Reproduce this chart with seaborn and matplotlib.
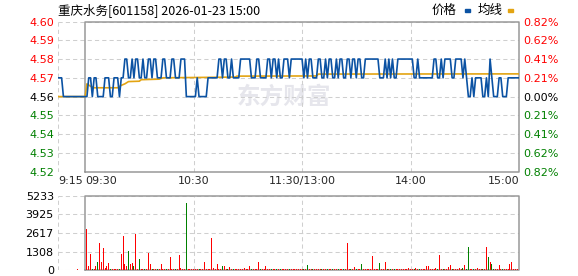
import numpy as np
import pandas as pd
import matplotlib
matplotlib.use("Agg")
import matplotlib.pyplot as plt
import seaborn as sns
from matplotlib.patches import Rectangle

# ---------------- data ----------------
title = "重庆水务[601158] 2026-01-23 15:00"
# minute index from 9:15 (0) to 15:00 (255); 9:30 = 15, 11:30/13:00 = 135
tick_minutes = [0, 15, 75, 135, 195, 255]
tick_labels = ["9:15", "09:30", "10:30", "11:30/13:00", "14:00", "15:00"]

price = [
    4.57, 4.57, 4.57, 4.56, 4.56, 4.56, 4.56, 4.56, 4.56, 4.56, 4.56, 4.56, 4.56, 4.56, 4.56, 4.56,
    4.56, 4.57, 4.57, 4.56, 4.57, 4.57, 4.56, 4.56, 4.56, 4.56, 4.57, 4.57, 4.57, 4.56, 4.56, 4.57,
    4.57, 4.57, 4.56, 4.57, 4.57, 4.58, 4.58, 4.57, 4.57, 4.58, 4.57, 4.58, 4.58, 4.57, 4.57, 4.58,
    4.57, 4.57, 4.58, 4.58, 4.57, 4.58, 4.58, 4.57, 4.57, 4.57, 4.58, 4.58, 4.57, 4.57, 4.57, 4.58,
    4.58, 4.57, 4.57, 4.57, 4.58, 4.58, 4.58, 4.56, 4.56, 4.56, 4.56, 4.56, 4.56, 4.57, 4.56, 4.56,
    4.56, 4.56, 4.56, 4.57, 4.57, 4.57, 4.57, 4.57, 4.57, 4.58, 4.58, 4.57, 4.58, 4.58, 4.57, 4.57,
    4.58, 4.57, 4.57, 4.57, 4.57, 4.58, 4.58, 4.58, 4.58, 4.58, 4.58, 4.57, 4.57, 4.57, 4.58, 4.58,
    4.57, 4.57, 4.57, 4.57, 4.58, 4.58, 4.57, 4.58, 4.58, 4.57, 4.58, 4.57, 4.57, 4.58, 4.58, 4.58,
    4.57, 4.58, 4.58, 4.58, 4.58, 4.58, 4.58, 4.58, 4.57, 4.58, 4.57, 4.58, 4.58, 4.57, 4.57, 4.57,
    4.58, 4.58, 4.57, 4.57, 4.58, 4.57, 4.58, 4.58, 4.57, 4.57, 4.58, 4.57, 4.58, 4.58, 4.57, 4.57,
    4.58, 4.58, 4.57, 4.58, 4.58, 4.57, 4.58, 4.58, 4.57, 4.57, 4.58, 4.58, 4.58, 4.58, 4.58, 4.58,
    4.58, 4.58, 4.57, 4.57, 4.57, 4.58, 4.57, 4.58, 4.57, 4.58, 4.57, 4.57, 4.58, 4.58, 4.58, 4.58,
    4.58, 4.58, 4.58, 4.58, 4.58, 4.57, 4.57, 4.58, 4.57, 4.57, 4.57, 4.57, 4.57, 4.57, 4.57, 4.57,
    4.58, 4.58, 4.57, 4.57, 4.58, 4.57, 4.58, 4.58, 4.58, 4.58, 4.57, 4.57, 4.58, 4.58, 4.58, 4.58,
    4.57, 4.58, 4.57, 4.56, 4.56, 4.57, 4.56, 4.57, 4.57, 4.57, 4.57, 4.56, 4.56, 4.57, 4.56, 4.58,
    4.57, 4.56, 4.56, 4.56, 4.57, 4.57, 4.56, 4.56, 4.56, 4.57, 4.57, 4.57, 4.57, 4.57, 4.57, 4.57,
]

avg_minute = [0, 15, 16, 18, 20, 33, 35, 37, 39, 45, 46, 56, 58, 98, 99, 143, 144, 255]
avg_price = [4.5600, 4.5600, 4.5668, 4.5655, 4.5647, 4.5647, 4.5660, 4.5668, 4.5680,
             4.5682, 4.5690, 4.5693, 4.5700, 4.5704, 4.5709, 4.5710, 4.5720, 4.5721]

volume = [
    0, 0, 0, 0, 0, 0, 0, 0, 0, 0, 0, 60, 0, 0, 0, 0,
    2920, 250, 1130, 50, 60, 250, 565, 1930, 565, 1555, 120, 250, 500, 50, 40, 50,
    40, 50, 60, 1130, 2400, 390, 250, 1340, 400, 500, 300, 2550, 60, 800, 100, 40,
    50, 60, 1220, 420, 40, 60, 50, 40, 50, 420, 60, 50, 40, 60, 920, 50,
    40, 60, 50, 1080, 120, 80, 60, 4760, 80, 60, 50, 60, 40, 90, 80, 70,
    60, 600, 50, 90, 60, 2290, 170, 50, 440, 60, 50, 300, 300, 50, 60, 220,
    50, 60, 40, 50, 60, 80, 50, 170, 40, 60, 250, 50, 100, 40, 60, 560,
    50, 40, 60, 250, 50, 60, 40, 50, 60, 40, 50, 60, 40, 50, 60, 40,
    50, 60, 40, 50, 60, 40, 50, 60, 50, 40, 350, 50, 60, 80, 40, 60,
    50, 40, 60, 50, 40, 60, 50, 40, 60, 50, 40, 80, 50, 40, 60, 50,
    1930, 50, 60, 40, 200, 50, 60, 40, 440, 50, 60, 40, 50, 60, 990, 40,
    50, 60, 500, 40, 50, 560, 40, 60, 80, 50, 40, 60, 50, 40, 60, 50,
    40, 60, 170, 50, 40, 60, 120, 50, 80, 40, 60, 50, 300, 300, 40, 60,
    50, 170, 60, 1060, 50, 40, 60, 50, 220, 380, 80, 50, 80, 40, 120, 50,
    170, 380, 50, 1630, 60, 40, 50, 60, 170, 40, 50, 60, 40, 1630, 920, 560,
    440, 80, 50, 60, 380, 100, 50, 40, 60, 80, 440, 600, 50, 40, 60, 1760,
]

price_ticks = [4.52, 4.53, 4.54, 4.55, 4.56, 4.57, 4.58, 4.59, 4.60]
price_labels = ["4.52", "4.53", "4.54", "4.55", "4.56", "4.57", "4.58", "4.59", "4.60"]
pct_labels = ["0.82%", "0.62%", "0.41%", "0.21%", "0.00%", "0.21%", "0.41%", "0.62%", "0.82%"]
vol_ticks = [0, 1308, 2617, 3925, 5233]
vol_labels = ["0", "1308", "2617", "3925", "5233"]

assert len(price) == 256 and len(volume) == 256

minute = np.arange(len(price))
df = pd.DataFrame({"minute": minute, "price": price, "volume": volume})
avg_df = pd.DataFrame({"minute": avg_minute, "avg": avg_price})

# ---------------- style ----------------
sns.set_theme(style="white")
plt.rcParams["font.family"] = ["DejaVu Sans", "Noto Sans CJK SC"]

RED = "#ff0000"
GREEN = "#008000"
BLUE = "#0b52a3"
ORANGE = "#e3a412"
GRID = "#cfcfcf"
BOX = "#999999"
DASH = (0, (4, 3))

W, H = 578, 276
fig = plt.figure(figsize=(W / 100, H / 100), dpi=100)

def frac_x(px):
    return px / W

def frac_y(py):
    return 1 - py / H

x0, x1 = 58, 519
ax1 = fig.add_axes([frac_x(x0), frac_y(171.7), (x1 - x0) / W, (171.7 - 21.5) / H])
ax2 = fig.add_axes([frac_x(x0), frac_y(270), (x1 - x0) / W, (270 - 196) / H])

for ax in (ax1, ax2):
    for s in ax.spines.values():
        s.set_visible(False)
    ax.set_xlim(0, 255)
    ax.set_facecolor("none")

# ---- price panel ----
ax1.set_ylim(4.52, 4.60)
ax1.hlines(price_ticks, 0, 255, colors=GRID, linestyles=DASH, lw=0.75, zorder=1)
ax1.vlines([0, 75, 135, 195], 4.52, 4.60, colors=GRID, linestyles=DASH, lw=0.75, zorder=1)
ax1.plot([15, 15, 255, 255, 15], [4.52, 4.60, 4.60, 4.52, 4.52], color=BOX, lw=1.1,
         clip_on=False, zorder=2)

ax1.text(0.49, 0.50, "东方财富", transform=ax1.transAxes, fontsize=17, fontweight="bold",
         color="#e6e6ec", ha="center", va="center", family=["Noto Sans CJK SC"], zorder=0)

sns.lineplot(data=avg_df, x="minute", y="avg", ax=ax1, color=ORANGE, lw=1.2,
             estimator=None, legend=False, zorder=3)
sns.lineplot(data=df, x="minute", y="price", ax=ax1, color=BLUE, lw=1.2,
             estimator=None, legend=False, zorder=4)

def label_color(i):
    if i > 4:
        return RED
    if i < 4:
        return GREEN
    return "black"

ax1.set_yticks(price_ticks)
ax1.set_yticklabels(price_labels)
for i, t in enumerate(ax1.get_yticklabels()):
    t.set_color(label_color(i))
ax1.tick_params(axis="y", length=0, pad=3, labelsize=8)

ax1.set_xticks(tick_minutes)
ax1.set_xticklabels(tick_labels)
has = ["left", "left", "center", "center", "center", "right"]
for t, ha in zip(ax1.get_xticklabels(), has):
    t.set_ha(ha)
ax1.tick_params(axis="x", length=0, pad=3, labelsize=8)
ax1.set_xlabel("")
ax1.set_ylabel("")

axr = ax1.twinx()
for s in axr.spines.values():
    s.set_visible(False)
axr.set_ylim(4.52, 4.60)
axr.set_yticks(price_ticks)
axr.set_yticklabels(pct_labels)
for i, t in enumerate(axr.get_yticklabels()):
    t.set_color(label_color(i))
axr.tick_params(axis="y", length=0, pad=3, labelsize=8)

# ---- volume panel ----
ax2.set_ylim(0, 5233)
ax2.hlines(vol_ticks, 0, 255, colors=GRID, linestyles=DASH, lw=0.75, zorder=1)
ax2.vlines([0, 75, 135, 195], 0, 5233, colors=GRID, linestyles=DASH, lw=0.75, zorder=1)
ax2.plot([15, 15, 255, 255, 15], [0, 5233, 5233, 0, 0], color=BOX, lw=1.1,
         clip_on=False, zorder=2)
bar_colors = [RED if (i == 0 or price[i] >= price[i - 1]) else GREEN for i in range(len(price))]
ax2.bar(df["minute"], df["volume"], width=0.55, color=bar_colors, lw=0, zorder=3)
ax2.set_yticks(vol_ticks)
ax2.set_yticklabels(vol_labels)
ax2.tick_params(axis="y", length=0, pad=3, labelsize=8, colors="black")
ax2.set_xticks([])
ax2.set_xlabel("")
ax2.set_ylabel("")

# ---- title & legend ----
fig.text(frac_x(58), frac_y(10.5), title, fontsize=9, va="center", ha="left",
         family=["Noto Sans CJK SC"], color="black")
fig.text(frac_x(432), frac_y(10.5), "价格", fontsize=9, va="center", ha="left",
         family=["Noto Sans CJK SC"], color="black")
fig.text(frac_x(478), frac_y(10.5), "均线", fontsize=9, va="center", ha="left",
         family=["Noto Sans CJK SC"], color="black")
fig.patches.append(Rectangle((frac_x(465), frac_y(12)), 5 / W, 3 / H,
                             transform=fig.transFigure, color=BLUE, figure=fig))
fig.patches.append(Rectangle((frac_x(508), frac_y(12)), 5 / W, 3 / H,
                             transform=fig.transFigure, color=ORANGE, figure=fig))

fig.savefig("out.png", dpi=100, facecolor="white")
